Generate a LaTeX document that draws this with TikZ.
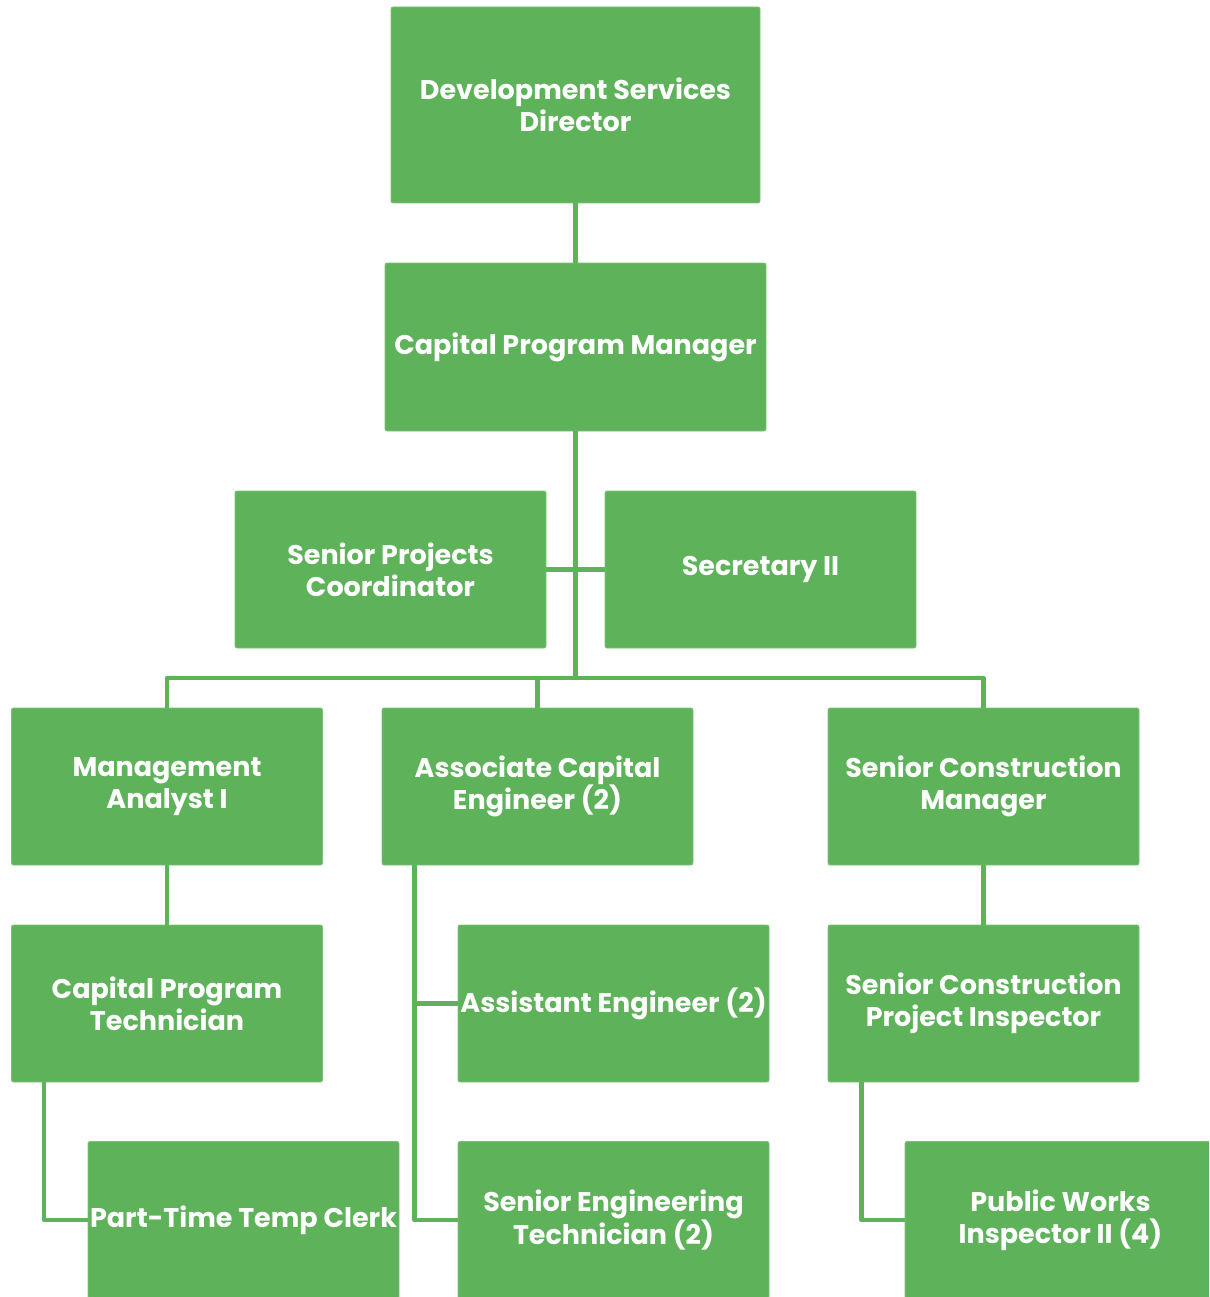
\documentclass[tikz,border=0pt]{standalone}
\usepackage{fontspec}
\setmainfont{Poppins}
\usetikzlibrary{positioning}
\definecolor{orggreen}{HTML}{5DB25A}
\tikzset{
  post/.style={rectangle, rounded corners=2pt, fill=orggreen, draw=orggreen!80!white,
    line width=0.8pt, text=white, align=center, inner sep=0pt,
    font=\bfseries\fontsize{27}{32}\selectfont,
    minimum width=311pt, minimum height=157pt},
  link/.style={draw=orggreen, line width=4.5pt, line join=round}
}
\begin{document}
\begin{tikzpicture}[x=1pt,y=-1pt]
\clip (0,0) rectangle (1209,1297);
% top of the chart
\node[post, minimum width=369pt, minimum height=196pt] (dir) at (575.5,105) {Development Services\\Director};
\node[post, minimum width=381pt, minimum height=168pt] (cpm) at (575.5,347) {Capital Program Manager};
\node[post] (spc) at (390.5,569.5) {Senior Projects\\Coordinator};
\node[post] (sec) at (760.5,569.5) {Secretary II};
% second level
\node[post] (ma)  at (167,786.5)   {Management\\Analyst I};
\node[post] (ace) at (537.5,786.5) {Associate Capital\\Engineer (2)};
\node[post] (scm) at (983.5,786.5) {Senior Construction\\Manager};
% third level
\node[post] (cpt)  at (167,1003.5)   {Capital Program\\Technician};
\node[post] (ae)   at (613.5,1003.5) {Assistant Engineer (2)};
\node[post] (scpi) at (983.5,1003.5) {Senior Construction\\Project Inspector};
% bottom row
\node[post] (pttc) at (243.5,1220)  {Part-Time Temp Clerk};
\node[post] (set)  at (613.5,1220)  {Senior Engineering\\Technician (2)};
\node[post] (pwi)  at (1060.5,1220) {Public Works\\Inspector II (4)};
% connectors
\coordinate (hub) at (575.5,678);
\draw[link] (dir) -- (cpm);
\draw[link] (cpm) -- (hub);
\draw[link] (spc) -- (sec);
\draw[link] (ma.north) |- (hub) -| (scm.north);
\draw[link] (ace.north) -- (ace.north |- hub);
\draw[link] (ma) -- (cpt);
\draw[link] ([xshift=33pt]cpt.south west) |- (pttc.west);
\draw[link] ([xshift=33pt]ace.south west) |- (set.west);
\draw[link] ([xshift=33pt]ace.south west) |- (ae.west);
\draw[link] (scm) -- (scpi);
\draw[link] ([xshift=34pt]scpi.south west) |- (pwi.west);
\end{tikzpicture}
\end{document}
